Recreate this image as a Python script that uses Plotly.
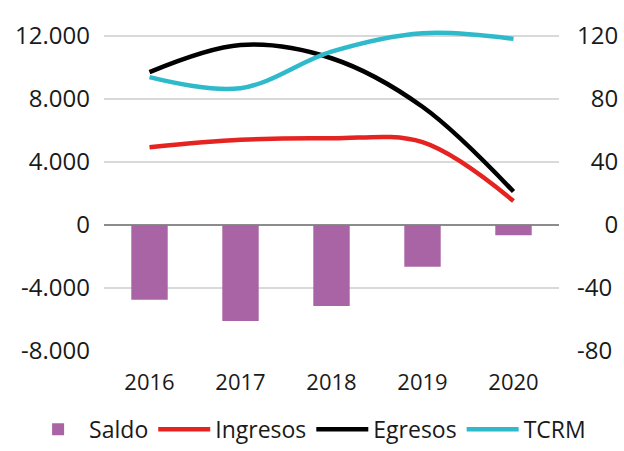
import plotly.graph_objects as go

years = ["2016", "2017", "2018", "2019", "2020"]
saldo = [-4750, -6100, -5150, -2650, -650]
ingresos = [4930, 5400, 5500, 5250, 1520]
egresos = [9700, 11420, 10580, 7500, 2120]
tcrm = [93.8, 86.8, 110, 121.7, 118.1]

left_ticks = [-8000, -4000, 0, 4000, 8000, 12000]
left_text = ["-8.000", "-4.000", "0", "4.000", "8.000", "12.000"]
right_ticks = [-80, -40, 0, 40, 80, 120]
right_text = ["-80", "-40", "\u2007\u20070", "\u200740", "\u200780", "120"]

FONT = "Open Sans"

fig = go.Figure()
fig.add_trace(go.Bar(x=years, y=saldo, name="Saldo", marker=dict(color="#a864a4", line=dict(width=0)),
                     width=0.4))
fig.add_trace(go.Scatter(x=years, y=ingresos, name="Ingresos", mode="lines",
                         line=dict(color="#e52421", width=4.5, shape="spline", smoothing=1.0)))
fig.add_trace(go.Scatter(x=years, y=egresos, name="Egresos", mode="lines",
                         line=dict(color="#000000", width=4.5, shape="spline", smoothing=1.0)))
fig.add_trace(go.Scatter(x=years, y=tcrm, name="TCRM", mode="lines", yaxis="y2",
                         line=dict(color="#2ebacb", width=4.5, shape="spline", smoothing=1.0)))

fig.update_layout(
    width=624, height=451,
    margin=dict(l=104, r=65, t=28, b=100, autoexpand=False),
    paper_bgcolor="white", plot_bgcolor="white",
    font=dict(family=FONT, size=23, color="#1a1a1a"),
    showlegend=True,
    legend=dict(orientation="h", x=-0.169, xanchor="left",
                y=-0.309, yanchor="bottom", itemwidth=52,
                font=dict(size=23), tracegroupgap=0),
    xaxis=dict(type="category", showgrid=False, zeroline=False, showline=False, ticks="",
               ticklabelstandoff=16, tickfont=dict(size=22)),
    yaxis=dict(range=[-8000, 12500], tickvals=left_ticks, ticktext=left_text,
               showgrid=True, gridcolor="#d9d9d9", gridwidth=1.5,
               zeroline=True, zerolinecolor="#8c8c8c", zerolinewidth=1.5,
               ticks="", ticklabelstandoff=13, tickfont=dict(size=24)),
    yaxis2=dict(range=[-80, 125], tickvals=right_ticks, ticktext=right_text,
                overlaying="y", side="right", showgrid=False, zeroline=False,
                ticks="", ticklabelstandoff=17, tickfont=dict(size=24)),
    bargap=0.6,
)

fig.write_html("out.html", config={"displayModeBar": False},
               post_script="document.body.style.margin='0';document.body.style.overflow='hidden';")
